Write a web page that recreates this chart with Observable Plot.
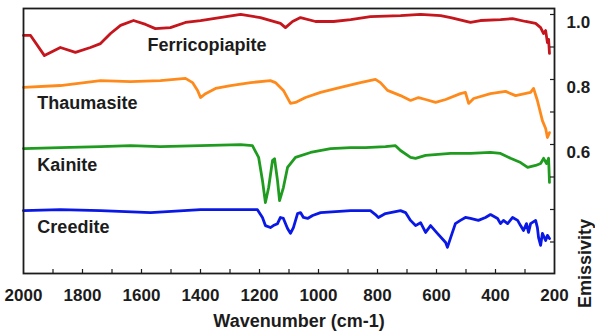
<!DOCTYPE html>
<html>
<head>
<meta charset="utf-8">
<script src="https://cdn.jsdelivr.net/npm/d3@7"></script>
<script src="https://cdn.jsdelivr.net/npm/@observablehq/plot@0.6"></script>
<style>
  html, body { margin: 0; padding: 0; background: #fff; }
  #chart svg { display: block; }
</style>
</head>
<body>
<div id="chart"></div>
<script>
// ---- Data ----
const seriesNames = ["Ferricopiapite", "Thaumasite", "Kainite", "Creedite"];
const seriesColors = ["#c4161c", "#ff8a1c", "#1f9c1f", "#0a18e6"];

const ferriWn = [2000, 1976, 1929, 1875, 1824, 1773, 1739, 1705, 1671, 1627, 1586, 1553, 1502, 1451, 1400, 1264, 1197, 1129, 1112, 1088, 1061, 1010, 949, 891, 824, 722, 654, 586, 552, 485, 451, 383, 342, 298, 264, 247, 237, 230, 224, 220, 217];
const ferriE  = [0.957, 0.957, 0.895, 0.920, 0.905, 0.920, 0.932, 0.963, 0.988, 1.003, 0.991, 0.978, 0.981, 0.997, 1.003, 1.022, 1.012, 0.994, 0.981, 1.000, 1.012, 1.000, 1.000, 1.006, 1.015, 1.018, 1.022, 1.018, 1.012, 0.997, 1.003, 1.006, 1.009, 1.000, 0.994, 0.981, 0.963, 0.972, 0.935, 0.945, 0.902];

const thauWn = [2000, 1875, 1739, 1637, 1536, 1451, 1427, 1410, 1400, 1383, 1349, 1298, 1230, 1163, 1146, 1119, 1095, 1078, 1044, 993, 925, 858, 807, 790, 766, 722, 688, 661, 637, 603, 569, 519, 502, 491, 474, 417, 366, 332, 281, 271, 258, 241, 230, 224, 217];
const thauE  = [0.797, 0.803, 0.818, 0.815, 0.818, 0.825, 0.812, 0.788, 0.766, 0.778, 0.794, 0.803, 0.812, 0.818, 0.812, 0.788, 0.748, 0.751, 0.766, 0.782, 0.797, 0.812, 0.822, 0.812, 0.788, 0.772, 0.757, 0.766, 0.760, 0.751, 0.760, 0.778, 0.782, 0.748, 0.763, 0.778, 0.785, 0.772, 0.782, 0.794, 0.757, 0.695, 0.671, 0.643, 0.658];

const kainWn = [2000, 1875, 1739, 1637, 1536, 1400, 1264, 1224, 1203, 1190, 1180, 1169, 1156, 1149, 1139, 1132, 1119, 1105, 1078, 1027, 959, 891, 841, 773, 739, 722, 688, 671, 637, 552, 485, 417, 383, 349, 315, 291, 264, 247, 237, 227, 220, 217];
const kainE  = [0.609, 0.612, 0.615, 0.618, 0.615, 0.618, 0.621, 0.618, 0.582, 0.511, 0.443, 0.489, 0.572, 0.578, 0.511, 0.449, 0.489, 0.551, 0.582, 0.597, 0.609, 0.612, 0.612, 0.615, 0.618, 0.603, 0.582, 0.579, 0.588, 0.594, 0.594, 0.597, 0.594, 0.579, 0.566, 0.551, 0.557, 0.563, 0.579, 0.563, 0.579, 0.505];

const creeWn = [2000, 1875, 1739, 1569, 1400, 1207, 1190, 1180, 1163, 1153, 1139, 1129, 1119, 1105, 1095, 1085, 1071, 1061, 1051, 1037, 1020, 993, 891, 824, 807, 797, 773, 722, 705, 688, 671, 654, 637, 620, 597, 569, 563, 552, 536, 519, 502, 485, 458, 434, 417, 393, 383, 373, 359, 342, 325, 315, 305, 295, 288, 281, 264, 258, 254, 247, 241, 230, 224, 217];
const creeE  = [0.418, 0.421, 0.418, 0.412, 0.421, 0.421, 0.397, 0.372, 0.366, 0.372, 0.378, 0.397, 0.394, 0.363, 0.348, 0.366, 0.409, 0.412, 0.397, 0.394, 0.403, 0.412, 0.418, 0.418, 0.406, 0.397, 0.409, 0.418, 0.412, 0.388, 0.372, 0.381, 0.351, 0.372, 0.348, 0.320, 0.305, 0.335, 0.378, 0.388, 0.397, 0.394, 0.388, 0.397, 0.406, 0.394, 0.378, 0.388, 0.378, 0.397, 0.388, 0.372, 0.357, 0.378, 0.351, 0.378, 0.388, 0.366, 0.335, 0.311, 0.348, 0.326, 0.342, 0.332];

// label anchors (wavenumber, emissivity) for the series names
const labelWn = [1580, 1953, 1953, 1953];
const labelE  = [0.926, 0.748, 0.557, 0.366];

const xTickValues = [2000, 1800, 1600, 1400, 1200, 1000, 800, 600, 400, 200];
const xMinorTicks = d3.range(1900, 200, -100);
const yTickValues = [0.6, 0.8, 1.0];
const yMinorTicks = [0.3, 0.4, 0.5, 0.6, 0.7, 0.8, 0.9, 1.0];

// ---- Build table ----
const wnLists = [ferriWn, thauWn, kainWn, creeWn];
const eLists = [ferriE, thauE, kainE, creeE];
const rows = [];
seriesNames.forEach((name, i) => {
  wnLists[i].forEach((w, j) => rows.push({series: name, wn: w, e: eLists[i][j]}));
});
const labels = seriesNames.map((name, i) => ({series: name, wn: labelWn[i], e: labelE[i]}));

// ---- Layout ----
const W = 595, H = 332;
const mL = 23, mR = 41, mT = 8, mB = 59;
const plotW = W - mL - mR, plotH = H - mT - mB;
const font = "'Liberation Sans', Arial, Helvetica, sans-serif";
const ink = "#1c1c1c";

const chart = Plot.plot({
  width: W,
  height: H,
  marginLeft: mL,
  marginRight: mR,
  marginTop: mT,
  marginBottom: mB,
  style: {fontFamily: font, fontWeight: "bold", fontSize: "17px", color: ink, background: "#fff"},
  x: {domain: [2000, 200]},
  y: {domain: [1.0646 - 273 / 325, 1.0646 - 8 / 325]},
  color: {domain: seriesNames, range: seriesColors},
  marks: [
    Plot.line(rows, {x: "wn", y: "e", z: "series", stroke: "series", strokeWidth: 2.8, strokeLinejoin: "round", curve: "linear"}),
    Plot.text(labels, {x: "wn", y: "e", text: "series", textAnchor: "start", lineAnchor: "middle", fontSize: 18, fontWeight: "bold", fill: ink}),
    Plot.axisX({ticks: xTickValues, tickSize: 0, tickPadding: 15, tickFormat: d => String(d), label: null, fontSize: 17, fill: ink}),
    Plot.axisY({anchor: "right", ticks: yTickValues, tickSize: 0, tickPadding: 12, tickFormat: d => d.toFixed(1), label: null, fontSize: 17, fill: ink, dy: 1.5}),
    Plot.axisY({anchor: "left", ticks: [], label: null}),
    Plot.tickX(xMinorTicks, {x: d => d, insetTop: plotH - 4, stroke: ink, strokeWidth: 1.2}),
    Plot.tickY(yMinorTicks, {y: d => d, insetLeft: plotW - 4, stroke: ink, strokeWidth: 1.2, dy: -7}),
    Plot.text(["Wavenumber (cm-1)"], {frameAnchor: "bottom", dx: 10, dy: 48, lineAnchor: "middle", fontSize: 18, fontWeight: "bold", fill: ink}),
    Plot.text(["Emissivity"], {frameAnchor: "right", rotate: -90, dx: 31, dy: 78, lineAnchor: "middle", fontSize: 18, fontWeight: "bold", fill: ink}),
    Plot.frame({stroke: ink, strokeWidth: 1.8})
  ]
});
document.getElementById("chart").appendChild(chart);
</script>
</body>
</html>
